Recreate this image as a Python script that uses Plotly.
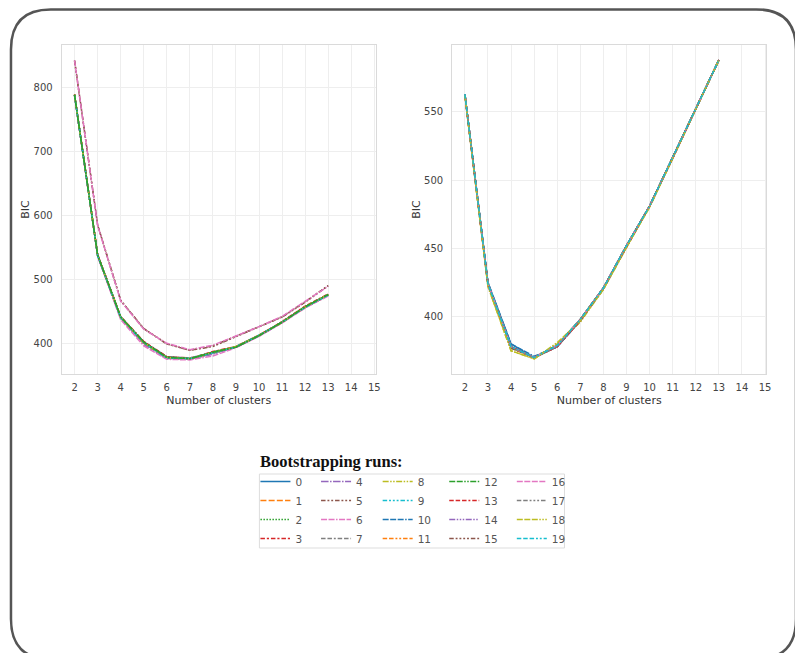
import plotly.graph_objects as go

# ---------------- data ----------------
clusters = [2, 3, 4, 5, 6, 7, 8, 9, 10, 11, 12, 13]
x_ticks = list(range(2, 16))
left_y_ticks = [400, 500, 600, 700, 800]
right_y_ticks = [400, 450, 500, 550]
run_labels = [str(i) for i in range(20)]

# BIC per bootstrapping run, left panel
left_bic = [
    [789, 539, 442, 403, 379, 377, 387, 395, 413, 434, 458, 477],  # 0
    [788, 538, 441, 402, 380, 378, 386, 396, 414, 434, 457, 476],  # 1
    [789, 539, 442, 403, 379, 377, 387, 395, 413, 434, 458, 477],  # 2
    [789, 538, 441, 402, 379, 377, 386, 395, 413, 434, 458, 477],  # 3
    [788, 539, 442, 403, 380, 378, 387, 396, 413, 434, 457, 476],  # 4
    [843, 586, 468, 424, 400, 390, 397, 412, 426, 442, 466, 491],  # 5
    [843, 585, 467, 423, 401, 391, 398, 412, 427, 443, 466, 490],  # 6
    [789, 538, 440, 401, 378, 376, 385, 395, 413, 434, 457, 476],  # 7
    [789, 539, 441, 400, 379, 377, 386, 395, 413, 434, 458, 477],  # 8
    [788, 538, 442, 402, 379, 378, 387, 396, 414, 434, 457, 477],  # 9
    [789, 539, 442, 403, 380, 377, 387, 395, 413, 434, 458, 477],  # 10
    [790, 539, 441, 401, 378, 376, 386, 395, 413, 433, 457, 476],  # 11
    [789, 539, 442, 403, 379, 377, 387, 395, 413, 434, 458, 477],  # 12
    [790, 540, 443, 404, 380, 377, 388, 396, 413, 435, 459, 478],  # 13
    [788, 538, 440, 399, 377, 376, 384, 395, 412, 433, 457, 476],  # 14
    [842, 586, 468, 424, 400, 390, 396, 411, 426, 442, 465, 491],  # 15
    [788, 537, 438, 397, 376, 375, 381, 394, 412, 433, 456, 475],  # 16
    [789, 538, 441, 402, 379, 377, 386, 395, 413, 434, 458, 477],  # 17
    [789, 539, 442, 402, 379, 377, 387, 396, 413, 434, 458, 477],  # 18
    [789, 538, 441, 402, 378, 377, 386, 395, 413, 434, 457, 476],  # 19
]

# BIC per bootstrapping run, right panel
right_bic = [
    [563, 425, 380, 370, 378, 398, 421, 452, 481, 517, 552, 588],  # 0
    [563, 424, 378, 370, 379, 398, 421, 452, 481, 517, 552, 588],  # 1
    [563, 424, 377, 370, 379, 398, 421, 452, 481, 517, 552, 588],  # 2
    [562, 423, 378, 370, 378, 397, 421, 451, 481, 516, 552, 588],  # 3
    [563, 424, 378, 370, 379, 398, 421, 452, 481, 517, 552, 588],  # 4
    [563, 424, 377, 370, 379, 398, 421, 452, 481, 517, 552, 588],  # 5
    [562, 423, 378, 370, 379, 397, 421, 451, 481, 516, 552, 588],  # 6
    [563, 424, 378, 370, 378, 398, 421, 452, 481, 517, 552, 588],  # 7
    [562, 422, 375, 369, 380, 396, 420, 451, 481, 516, 552, 588],  # 8
    [563, 424, 378, 370, 379, 398, 421, 452, 481, 517, 552, 588],  # 9
    [563, 425, 380, 371, 378, 397, 421, 452, 481, 517, 552, 588],  # 10
    [563, 423, 377, 370, 379, 398, 421, 452, 481, 517, 552, 588],  # 11
    [563, 424, 378, 370, 379, 398, 421, 452, 481, 517, 552, 588],  # 12
    [562, 424, 378, 370, 378, 397, 421, 451, 481, 516, 552, 588],  # 13
    [563, 424, 378, 370, 379, 398, 421, 452, 481, 517, 552, 588],  # 14
    [563, 423, 377, 370, 379, 398, 420, 452, 481, 517, 552, 588],  # 15
    [563, 424, 378, 370, 379, 398, 421, 452, 481, 517, 552, 588],  # 16
    [563, 424, 378, 370, 378, 398, 421, 452, 481, 517, 552, 588],  # 17
    [562, 422, 375, 369, 381, 397, 420, 451, 480, 516, 552, 588],  # 18
    [563, 424, 378, 370, 379, 398, 421, 452, 481, 517, 552, 588],  # 19
]

# ---------------- styles ----------------
tab10 = ["#1f77b4", "#ff7f0e", "#2ca02c", "#d62728", "#9467bd",
         "#8c564b", "#e377c2", "#7f7f7f", "#bcbd22", "#17becf"]
colors = tab10 + tab10

dash_units = [
    (), (4, 1.5), (1, 1), (3, 1.25, 1.5, 1.25), (5, 1, 1, 1),
    (3, 1.25, 1.25, 1.25, 1.25, 1.25), (4, 1, 4, 1, 1, 1),
    (3, 1.25, 3, 1.25, 1.25, 1.25), (4, 1, 1, 1, 1, 1),
    (3, 1.25, 1.25, 1.25, 1.25, 1.25, 1.25, 1.25), (4, 1, 4, 1, 4, 1, 1, 1),
    (3, 1.25, 3, 1.25, 1.25, 1.25, 1.25, 1.25), (4, 1, 4, 1, 1, 1, 1, 1),
    (3, 1.25, 3, 1.25, 3, 1.25, 1.25, 1.25), (4, 1, 1, 1, 1, 1, 1, 1),
    (3, 1.25, 1.25, 1.25, 1.25, 1.25, 1.25, 1.25, 1.25, 1.25),
    (4, 1, 4, 1, 4, 1, 4, 1, 1, 1),
    (3, 1.25, 3, 1.25, 1.25, 1.25, 1.25, 1.25, 1.25, 1.25),
    (4, 1, 4, 1, 4, 1, 1, 1, 1, 1),
    (3, 1.25, 3, 1.25, 3, 1.25, 1.25, 1.25, 1.25, 1.25),
]
LW = 1.5


def dash_str(units):
    if not units:
        return "solid"
    return ",".join("%.1fpx" % (u * LW) for u in units)


# page body has an 8px margin, so the figure is laid out in page pixels minus 8
OFF = 8
W, H = 803 - OFF, 653 - OFF


def fx(p):
    return (p - OFF) / W


def fy(p):
    return 1 - (p - OFF) / H


fig = go.Figure()

# drawing order (legend order fixed via legendrank)
left_last = [15, 5, 6, 2, 12]
left_order = [r for r in range(20) if r not in left_last] + left_last
right_order = list(range(20))

for r in left_order:
    col = r // 4
    row = r % 4
    fig.add_trace(go.Scatter(
        x=clusters, y=left_bic[r], mode="lines", name=run_labels[r],
        line=dict(color=colors[r], width=LW, dash=dash_str(dash_units[r])),
        xaxis="x", yaxis="y",
        legend="legend" if col == 0 else "legend%d" % (col + 1),
        legendrank=row, showlegend=True, hoverinfo="x+y+name"))

for r in right_order:
    fig.add_trace(go.Scatter(
        x=clusters, y=right_bic[r], mode="lines", name=run_labels[r],
        line=dict(color=colors[r], width=LW, dash=dash_str(dash_units[r])),
        xaxis="x2", yaxis="y2", showlegend=False, hoverinfo="x+y+name"))

tickfont = dict(family="DejaVu Sans", size=10, color="#444444")
titlefont = dict(family="DejaVu Sans", size=11, color="#333333")
grid = "#eeeeee"
frame = "#dadada"

axis_common = dict(showgrid=True, gridcolor=grid, gridwidth=1, showline=True,
                   linecolor=frame, linewidth=1, mirror=True, zeroline=False,
                   ticks="", tickfont=tickfont)

ydom = [fy(374), fy(45)]

layout = dict(
    width=W, height=H,
    margin=dict(l=0, r=0, t=0, b=0),
    paper_bgcolor="white", plot_bgcolor="white",
    showlegend=True,
    xaxis=dict(domain=[fx(62), fx(378)], range=[1.44, 15.06], tickvals=x_ticks,
               title=dict(text="Number of clusters", font=titlefont, standoff=4),
               anchor="y", ticklabelstandoff=4, **axis_common),
    yaxis=dict(domain=ydom, range=[353, 867], tickvals=left_y_ticks,
               title=dict(text="BIC", font=titlefont, standoff=1),
               anchor="x", ticklabelstandoff=6, **axis_common),
    xaxis2=dict(domain=[fx(455), fx(771)], range=[1.45, 15.05], tickvals=x_ticks,
                title=dict(text="Number of clusters", font=titlefont, standoff=4),
                anchor="y2", ticklabelstandoff=4, **axis_common),
    yaxis2=dict(domain=ydom, range=[358, 599], tickvals=right_y_ticks,
                title=dict(text="BIC", font=titlefont, standoff=1),
                anchor="x2", ticklabelstandoff=6, **axis_common),
)

legend_x_px = [257, 318, 380, 447, 515]
for c in range(5):
    key = "legend" if c == 0 else "legend%d" % (c + 1)
    layout[key] = dict(
        x=fx(legend_x_px[c]), y=fy(467), xanchor="left", yanchor="top",
        orientation="v", bgcolor="rgba(0,0,0,0)", borderwidth=0,
        font=dict(family="DejaVu Sans", size=10.5, color="#555555"),
        itemwidth=30, tracegroupgap=0, traceorder="normal",
        itemclick=False, itemdoubleclick=False)

fig.update_layout(**layout)

# legend title
fig.add_annotation(text="<b>Bootstrapping runs:</b>", xref="paper", yref="paper",
                   x=fx(260), y=fy(461), xanchor="left", yanchor="middle",
                   showarrow=False,
                   font=dict(family="Liberation Serif", size=16.5, color="#111111"))

# legend frame
fig.add_shape(type="rect", xref="paper", yref="paper",
              x0=fx(261), x1=fx(568), y0=fy(474), y1=fy(548),
              line=dict(color="#dddddd", width=1), fillcolor="rgba(0,0,0,0)",
              layer="below")


# outer rounded card border
def rounded_path(x0, y0, x1, y1, rad):
    pts = [
        ("M", x0 + rad, y0), ("L", x1 - rad, y0), ("Q", x1, y0, x1, y0 + rad),
        ("L", x1, y1 - rad), ("Q", x1, y1, x1 - rad, y1), ("L", x0 + rad, y1),
        ("Q", x0, y1, x0, y1 - rad), ("L", x0, y0 + rad), ("Q", x0, y0, x0 + rad, y0),
    ]
    out = []
    for p in pts:
        cmd = p[0]
        coords = p[1:]
        s = []
        for i in range(0, len(coords), 2):
            s.append("%.5f,%.5f" % (fx(coords[i]), fy(coords[i + 1])))
        out.append(cmd + " " + " ".join(s))
    return " ".join(out) + " Z"


fig.add_shape(type="path", xref="paper", yref="paper",
              path=rounded_path(11, 9.4, 801, 659, 40),
              line=dict(color="#555555", width=2.5))

fig.write_html("out.html")
